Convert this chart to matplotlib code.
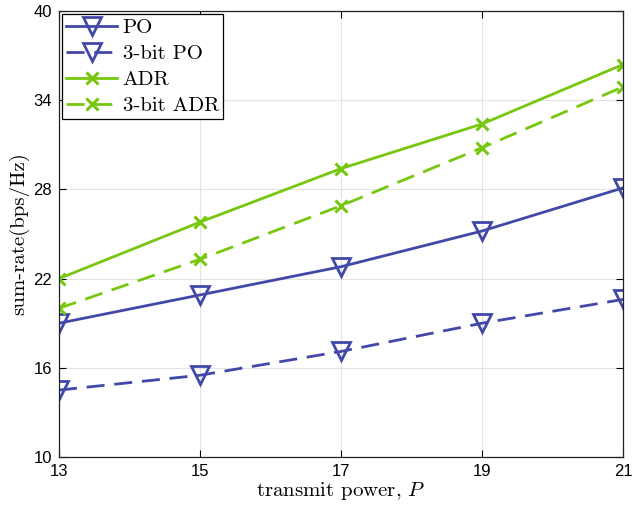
import matplotlib
matplotlib.use("Agg")
import matplotlib.pyplot as plt

x = [13, 15, 17, 19, 21]
po = [19.0, 20.9, 22.8, 25.2, 28.1]
po3 = [14.5, 15.5, 17.1, 19.0, 20.6]
adr = [22.0, 25.8, 29.4, 32.4, 36.4]
adr3 = [20.0, 23.3, 26.9, 30.8, 34.9]
yticks = [10, 16, 22, 28, 34, 40]
xticks = [13, 15, 17, 19, 21]

blue = "#4148A8"
green = "#77C70F"

plt.rcParams["mathtext.fontset"] = "cm"
plt.rcParams["axes.unicode_minus"] = False
fig = plt.figure(figsize=(6.32, 5.13), dpi=100)
ax = fig.add_axes([59/632, 1-457/513, (623-59)/632, (457-11)/513])

dash = (0, (6.5, 3.5))
ax.plot(x, po, color=blue, lw=2, ls="-", marker="v", ms=13, mfc="none", mew=2, label="PO")
ax.plot(x, po3, color=blue, lw=2, ls=dash, marker="v", ms=13, mfc="none", mew=2, label="3-bit PO")
ax.plot(x, adr, color=green, lw=2, ls="-", marker="x", ms=9, mew=2.2, label="ADR")
ax.plot(x, adr3, color=green, lw=2, ls=dash, marker="x", ms=9, mew=2.2, label="3-bit ADR")

ax.set_xlim(13, 21)
ax.set_ylim(10, 40)
ax.set_xticks(xticks)
ax.set_yticks(yticks)
ax.grid(True, color="#e3e3e3", lw=0.8)
ax.set_axisbelow(True)
ax.tick_params(direction="in", top=True, right=True, labelsize=12, length=5, width=0.8, pad=5)
for lab in ax.get_xticklabels() + ax.get_yticklabels():
    lab.set_family("Liberation Sans")
for s in ax.spines.values():
    s.set_linewidth(0.9)
    s.set_color("#222222")

ax.set_xlabel("transmit power, $P$", fontsize=15, family="cmr10", labelpad=1)
ax.set_ylabel("sum-rate(bps/Hz)", fontsize=15, family="cmr10", labelpad=3)

leg = ax.legend(loc="upper left", prop={"family": "cmr10", "size": 15},
                fancybox=False, edgecolor="black", framealpha=1, borderaxespad=0.15,
                handlelength=2.45, handletextpad=0.25, labelspacing=0.36, borderpad=0.2)
leg.get_frame().set_linewidth(0.9)

fig.savefig("out.png", dpi=100)
